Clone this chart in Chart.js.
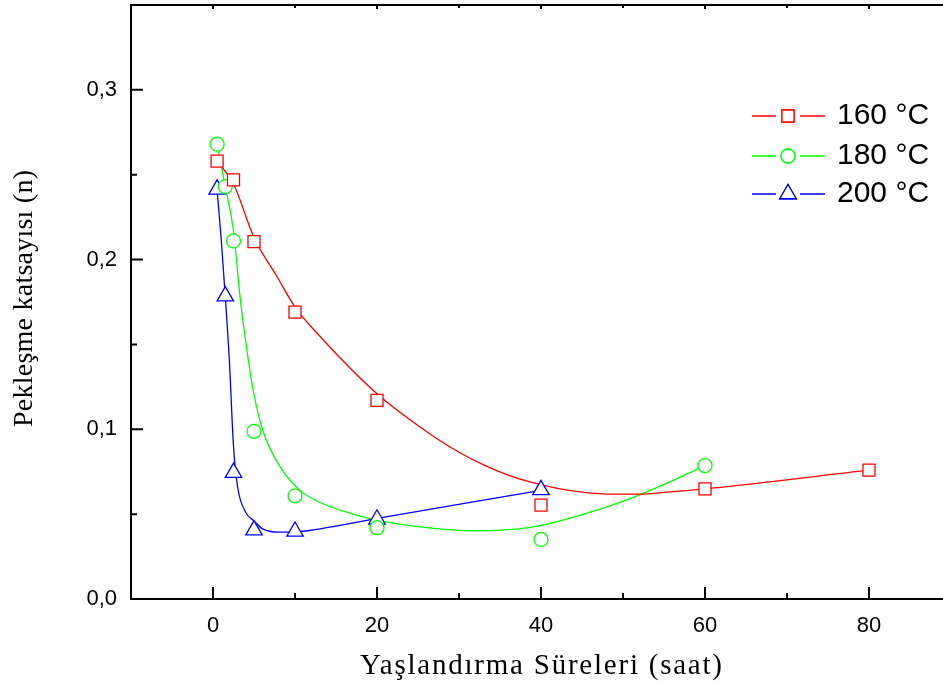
<!DOCTYPE html>
<html><head><meta charset="utf-8">
<script src="https://cdn.jsdelivr.net/npm/chart.js@4/dist/chart.umd.min.js"></script>
<style>
html,body{margin:0;padding:0;overflow:hidden;background:#fff;width:943px;height:683px}
#wrap{position:absolute;left:0;top:0;width:943px;height:683px;overflow:hidden;background:#fff}
canvas{position:absolute;left:0;top:0}
</style></head>
<body><div id="wrap"><canvas id="c" width="960" height="683"></canvas></div>
<script>
// ---- data ----
const seriesNames = ['160 °C', '180 °C', '200 °C'];

// measured points (markers)
const hours160 = [0.5, 2.5, 5, 10, 20, 40, 60, 80];
const coef160  = [0.258, 0.247, 0.2106, 0.169, 0.117, 0.0553, 0.0649, 0.0759];
const hours180 = [0.5, 1.5, 2.5, 5, 10, 20, 40, 60];
const coef180  = [0.268, 0.243, 0.211, 0.0988, 0.0608, 0.042, 0.0351, 0.0786];
const hours200 = [0.5, 1.5, 2.5, 5, 10, 20, 40];
const coef200  = [0.2414, 0.1785, 0.0745, 0.0406, 0.0398, 0.047, 0.0643];

// fitted curves as drawn in the picture (sampled by eye)
const fitHours160 = [0.5, 2.5, 5, 7.8, 10, 13, 20, 27, 30, 33, 36, 39, 42, 45, 48.8, 52, 55, 60, 80];
const fitCoef160  = [0.258, 0.2445, 0.213, 0.19, 0.172, 0.155, 0.121, 0.0955, 0.0865, 0.079, 0.073, 0.0685, 0.0652, 0.063, 0.0618, 0.0618, 0.0628, 0.0649, 0.0759];
const fitHours180 = [0.5, 1.5, 2.5, 3.3, 4.1, 4.9, 6.1, 8.2, 10.6, 13, 15.5, 20, 26.9, 31.7, 38.7, 44.8, 50.9, 55.7, 60];
const fitCoef180  = [0.268, 0.243, 0.217, 0.178, 0.148, 0.123, 0.099, 0.0778, 0.064, 0.057, 0.0524, 0.0465, 0.0416, 0.0402, 0.0422, 0.0494, 0.0592, 0.069, 0.0786];
const fitHours200 = [0.5, 1, 1.5, 2, 2.5, 3, 4, 5, 6, 8, 10, 12, 15, 20, 40];
const fitCoef200  = [0.241, 0.212, 0.178, 0.14, 0.09, 0.066, 0.051, 0.046, 0.0415, 0.0394, 0.0396, 0.0405, 0.043, 0.0475, 0.064];

// axis ticks
const xMajorTicks = [0, 20, 40, 60, 80];
const xMinorTicks = [10, 30, 50, 70];
const yMajorTicks = [0, 0.1, 0.2, 0.3];
const yMinorTicks = [0.05, 0.15, 0.25];

const xTitle = 'Yaşlandırma Süreleri (saat)';
const yTitle = 'Pekleşme katsayısı (n)';

// ---- styling ----
const colors = ['#ff0000', '#00ff00', '#0000ff'];
const styles = [
  {pointStyle: 'rect', radius: 8.5},
  {pointStyle: 'circle', radius: 7},
  {pointStyle: 'triangle', radius: 9.5}
];
const zip = (xs, ys) => xs.map((x, i) => ({x: x, y: ys[i]}));
const markerSets = [zip(hours160, coef160), zip(hours180, coef180), zip(hours200, coef200)];
const fitSets = [zip(fitHours160, fitCoef160), zip(fitHours180, fitCoef180), zip(fitHours200, fitCoef200)];

const datasets = [];
for (let i = 0; i < 3; i++) {
  datasets.push({
    label: seriesNames[i] + ' fit',
    data: fitSets[i],
    showLine: true,
    borderColor: colors[i],
    borderWidth: 1.3,
    pointRadius: 0,
    cubicInterpolationMode: 'monotone',
    fill: false,
    order: 2
  });
}
for (let i = 0; i < 3; i++) {
  datasets.push({
    label: seriesNames[i],
    data: markerSets[i],
    showLine: false,
    pointStyle: styles[i].pointStyle,
    pointRadius: styles[i].radius,
    pointHoverRadius: styles[i].radius,
    pointBorderWidth: 1.3,
    borderColor: colors[i],
    pointBorderColor: colors[i],
    pointBackgroundColor: '#ffffff',
    clip: false,
    order: 1
  });
}

const sansFont = "'Liberation Sans', Arial, sans-serif";
const serifFont = "'Liberation Serif', 'Times New Roman', serif";

const framePlugin = {
  id: 'frame',
  afterDraw(chart) {
    const ctx = chart.ctx, a = chart.chartArea;
    const xs = chart.scales.x, ys = chart.scales.y;
    ctx.save();
    ctx.strokeStyle = '#000';
    ctx.lineWidth = 2;
    ctx.lineCap = 'square';
    ctx.beginPath();
    ctx.moveTo(a.left, a.top); ctx.lineTo(a.right, a.top);
    ctx.moveTo(a.left, a.top); ctx.lineTo(a.left, a.bottom);
    ctx.moveTo(a.left, a.bottom); ctx.lineTo(a.right, a.bottom);
    ctx.stroke();
    ctx.lineCap = 'butt';
    ctx.beginPath();
    xMajorTicks.forEach(v => { const p = xs.getPixelForValue(v);
      ctx.moveTo(p, a.bottom); ctx.lineTo(p, a.bottom - 12);
      ctx.moveTo(p, a.top); ctx.lineTo(p, a.top + 4); });
    xMinorTicks.forEach(v => { const p = xs.getPixelForValue(v);
      ctx.moveTo(p, a.bottom); ctx.lineTo(p, a.bottom - 6);
      ctx.moveTo(p, a.top); ctx.lineTo(p, a.top + 3); });
    yMajorTicks.forEach(v => { const p = ys.getPixelForValue(v);
      ctx.moveTo(a.left, p); ctx.lineTo(a.left + 12, p); });
    yMinorTicks.forEach(v => { const p = ys.getPixelForValue(v);
      ctx.moveTo(a.left, p); ctx.lineTo(a.left + 6, p); });
    ctx.stroke();
    ctx.restore();
  }
};

function drawSpacedText(ctx, text, font, targetWidth, cx, cy, rot) {
  ctx.save();
  ctx.font = font;
  if ('letterSpacing' in ctx) ctx.letterSpacing = '0px';
  const w = ctx.measureText(text).width;
  const sp = Math.max(0, (targetWidth - w) / (text.length - 1));
  const total = w + sp * (text.length - 1);
  ctx.translate(cx, cy);
  ctx.rotate(rot);
  ctx.fillStyle = '#000';
  ctx.textBaseline = 'alphabetic';
  ctx.textAlign = 'left';
  if ('letterSpacing' in ctx) {
    ctx.letterSpacing = sp + 'px';
    ctx.fillText(text, -total / 2, 0);
  } else {
    ctx.fillText(text, -w / 2, 0);
  }
  ctx.restore();
}

const titlePlugin = {
  id: 'axisTitles',
  afterDraw(chart, args, o) {
    const ctx = chart.ctx, a = chart.chartArea;
    drawSpacedText(ctx, xTitle, '29px ' + serifFont, o.xWidth, (a.left + a.right) / 2, o.xBaseline, 0);
    drawSpacedText(ctx, yTitle, '28px ' + serifFont, o.yWidth, o.yBaseline, o.yCenter, -Math.PI / 2);
  }
};

const legendPlugin = {
  id: 'customLegend',
  afterDraw(chart, args, opts) {
    const ctx = chart.ctx;
    ctx.save();
    for (let i = 0; i < 3; i++) {
      const y = opts.rows[i];
      ctx.strokeStyle = colors[i];
      ctx.lineWidth = 1.3;
      ctx.beginPath();
      ctx.moveTo(opts.lineStart, y); ctx.lineTo(opts.marker - opts.gap, y);
      ctx.moveTo(opts.marker + opts.gap, y); ctx.lineTo(opts.lineEnd, y);
      ctx.stroke();
      ctx.fillStyle = '#ffffff';
      Chart.helpers.drawPoint(ctx, {pointStyle: styles[i].pointStyle, radius: styles[i].radius, rotation: 0, borderWidth: 1.3}, opts.marker, y);
      ctx.fill();
      ctx.stroke();
      ctx.fillStyle = '#000';
      ctx.font = '30px ' + sansFont;
      ctx.textBaseline = 'middle';
      ctx.textAlign = 'left';
      ctx.fillText(seriesNames[i], opts.textX, y);
    }
    ctx.restore();
  }
};

const zeroPad = s => { s.paddingTop = 0; s.paddingBottom = 0; s.paddingLeft = 0; s.paddingRight = 0; };

new Chart(document.getElementById('c'), {
  type: 'scatter',
  data: {datasets: datasets},
  options: {
    responsive: false,
    devicePixelRatio: 1,
    animation: false,
    layout: {autoPadding: false, padding: {left: 0, top: 5, right: 9, bottom: 0}},
    plugins: {
      legend: {display: false},
      tooltip: {enabled: false},
      customLegend: {rows: [116, 156, 194], lineStart: 752, lineEnd: 825, marker: 788, gap: 12, textX: 837},
      axisTitles: {xWidth: 362, xBaseline: 674, yWidth: 257, yBaseline: 32, yCenter: 298.5}
    },
    scales: {
      x: {
        type: 'linear', min: -10, max: 90,
        afterBuildTicks: s => { s.ticks = xMajorTicks.map(v => ({value: v})); },
        afterFit: s => { s.height = 84; zeroPad(s); },
        grid: {display: false, drawTicks: false},
        border: {display: false},
        ticks: {color: '#000', font: {size: 22, family: sansFont}, padding: 14, maxRotation: 0,
          callback: v => String(v)},
        title: {display: false}
      },
      y: {
        type: 'linear', min: 0, max: 0.35,
        afterBuildTicks: s => { s.ticks = yMajorTicks.map(v => ({value: v})); },
        afterFit: s => { s.width = 131; zeroPad(s); },
        grid: {display: false, drawTicks: false},
        border: {display: false},
        ticks: {color: '#000', font: {size: 22, family: sansFont}, padding: 14,
          callback: v => v.toFixed(1).replace('.', ',')},
        title: {display: false}
      }
    }
  },
  plugins: [framePlugin, titlePlugin, legendPlugin]
});
</script>
</body></html>
